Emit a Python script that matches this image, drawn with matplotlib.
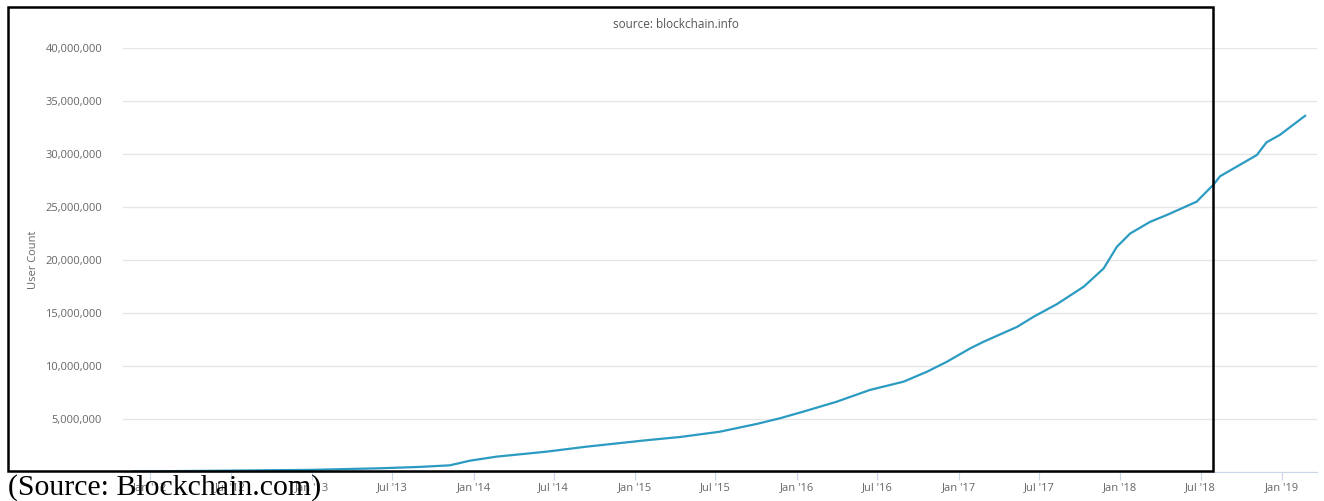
import matplotlib
matplotlib.use('Agg')
import matplotlib.pyplot as plt
from matplotlib.patches import Rectangle
from matplotlib.ticker import FuncFormatter
import numpy as np

# blockchain wallet users (millions)
dates = ['2011-11-24', '2012-06-01', '2012-12-27', '2013-06-03', '2013-09-01',
         '2013-11-08', '2013-12-24', '2014-02-22', '2014-06-15', '2014-09-13',
         '2015-01-27', '2015-04-12', '2015-07-11', '2015-10-02', '2015-11-24',
         '2016-01-16', '2016-03-31', '2016-06-14', '2016-08-29', '2016-10-21',
         '2016-12-05', '2017-01-27', '2017-02-26', '2017-05-13', '2017-06-19',
         '2017-08-11', '2017-10-10', '2017-11-24', '2017-12-24', '2018-01-23',
         '2018-03-09', '2018-04-16', '2018-06-22', '2018-07-30', '2018-08-14',
         '2018-11-05', '2018-11-27', '2018-12-27', '2019-02-22']
users_m = [0.05, 0.12, 0.2, 0.35, 0.48,
           0.63, 1.07, 1.45, 1.92, 2.39,
           3.0, 3.3, 3.8, 4.53, 5.07,
           5.7, 6.63, 7.74, 8.52, 9.46,
           10.4, 11.67, 12.29, 13.7, 14.65,
           15.85, 17.48, 19.2, 21.25, 22.5,
           23.6, 24.25, 25.5, 27.1, 27.9,
           29.9, 31.1, 31.8, 33.6]

tick_dates = ['2012-01-01', '2012-07-01', '2013-01-01', '2013-07-01', '2014-01-01',
              '2014-07-01', '2015-01-01', '2015-07-01', '2016-01-01', '2016-07-01',
              '2017-01-01', '2017-07-01', '2018-01-01', '2018-07-01', '2019-01-01']
tick_labels = ["Jan '12", "Jul '12", "Jan '13", "Jul '13", "Jan '14", "Jul '14",
               "Jan '15", "Jul '15", "Jan '16", "Jul '16", "Jan '17", "Jul '17",
               "Jan '18", "Jul '18", "Jan '19"]
y_ticks = [0, 5e6, 10e6, 15e6, 20e6, 25e6, 30e6, 35e6, 40e6]

W, H = 1324, 501
fig = plt.figure(figsize=(W / 100, H / 100), dpi=100)
ax = fig.add_axes([123 / W, 1 - 472 / H, (1317 - 123) / W, (472 - 48) / H])

x = np.array(dates, dtype='datetime64[D]')
y = np.array(users_m) * 1e6
ax.plot(x, y, color='#2b9bc2', lw=1.6, solid_joinstyle='round')

ax.set_xlim(np.datetime64('2011-11-01'), np.datetime64('2019-03-21'))
ax.set_ylim(0, 40e6)
ax.set_yticks(y_ticks)
ax.yaxis.set_major_formatter(FuncFormatter(lambda v, p: '' if v == 0 else f'{int(v):,}'))
ax.set_xticks(np.array(tick_dates, dtype='datetime64[D]'))
ax.set_xticklabels(tick_labels)

ax.grid(axis='y', color='#e6e6e6', lw=1)
ax.set_axisbelow(True)
for s in ['top', 'right', 'left']:
    ax.spines[s].set_visible(False)
ax.spines['bottom'].set_color('#ccd6eb')
ax.tick_params(axis='y', length=0, pad=15, labelsize=8, labelcolor='#666666')
ax.tick_params(axis='x', length=6, color='#ccd6eb', pad=1, labelsize=8, labelcolor='#666666')
for lab in ax.get_xticklabels() + ax.get_yticklabels():
    lab.set_family('Open Sans')

fig.text(33 / W, 1 - 260 / H, 'User Count', rotation=90, ha='center', va='center',
         fontsize=8, color='#666666', family='Open Sans')
fig.text(676 / W, 1 - 25 / H, 'source: blockchain.info', ha='center', va='center',
         fontsize=8.5, color='#555555', family='Open Sans')

# black frame drawn over the chart
fig.patches.append(Rectangle((8 / W, 1 - 471 / H), (1213 - 8) / W, (471 - 7) / H,
                             transform=fig.transFigure, fill=False, ec='black', lw=1.8))
fig.text(8 / W, 1 - 495 / H, '(Source: Blockchain.com)', ha='left', va='baseline',
         fontsize=21.5, family='Liberation Serif', color='black')

fig.savefig('out.png', dpi=100)
